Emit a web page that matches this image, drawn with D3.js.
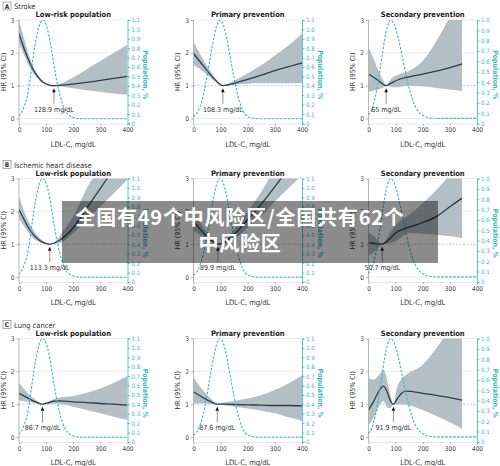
<!DOCTYPE html>
<meta charset="utf-8">
<style>
    body { margin: 0; background: #fff; }
    svg text { font-family: "Liberation Sans Narrow", "DejaVu Sans Condensed", "Liberation Sans", sans-serif; }
    .overlay text { font-family: "Noto Sans CJK SC", sans-serif; }
</style>
<body>
<div id="chart"></div>
<script src="https://cdn.jsdelivr.net/npm/d3@7/dist/d3.min.js"></script>
<script>
    var width = 500,
        height = 466

    // axes
    var ldlTicks = [0, 100, 200, 300, 400]
    var hrTicks = [0, 1, 2, 3]
    var popTicksWide = [0, 0.1, 0.2, 0.3, 0.4, 0.5, 0.6, 0.7, 0.8, 0.9, 1.0, 1.1]
    var popTicksNarrow = [0, 0.1, 0.2, 0.3, 0.4, 0.5, 0.6, 0.7, 0.8, 0.9, 1.0]

    var rowLetters = ["A", "B", "C"]
    var rowNames = ["Stroke", "Ischemic heart disease", "Lung cancer"]
    var colNames = ["Low-risk population", "Primary prevention", "Secondary prevention"]

    // [LDL-C, HR, lower CI, upper CI]
    var strokeLowRisk = [[0, 2.6, 2.3, 3.0], [20, 2.1, 1.9, 2.4], [40, 1.7, 1.55, 1.85], [60, 1.38, 1.3, 1.46],
        [80, 1.17, 1.12, 1.22], [100, 1.05, 1.03, 1.08], [115, 1.01, 1.0, 1.02], [128.9, 1, 1, 1],
        [150, 1.01, 0.98, 1.05], [200, 1.05, 0.92, 1.25], [250, 1.1, 0.86, 1.5], [300, 1.16, 0.81, 1.75],
        [350, 1.22, 0.76, 2.0], [400, 1.28, 0.72, 2.25]]
    var strokePrimary = [[0, 1.98, 1.62, 2.33], [25, 1.72, 1.5, 1.95], [50, 1.46, 1.33, 1.6], [75, 1.22, 1.15, 1.29],
        [95, 1.06, 1.03, 1.09], [108.3, 1, 1, 1], [125, 1.02, 1.0, 1.05], [150, 1.07, 1.03, 1.15],
        [200, 1.19, 1.06, 1.38], [250, 1.32, 1.07, 1.62], [300, 1.46, 1.07, 1.92], [350, 1.58, 1.07, 2.22],
        [400, 1.69, 1.08, 2.58]]
    var strokeSecondary = [[0, 1.35, 0.81, 2.18], [20, 1.25, 0.85, 1.8], [40, 1.13, 0.9, 1.4], [55, 1.04, 0.95, 1.15],
        [65, 1, 1, 1], [80, 1.06, 0.97, 1.18], [100, 1.15, 0.95, 1.3], [150, 1.27, 1.0, 1.45],
        [200, 1.35, 0.98, 1.75], [250, 1.44, 0.93, 2.35], [300, 1.55, 0.88, 3.1], [345, 1.66, 0.83, 3.8]]

    var ihdLowRisk = [[0, 2.06, 1.79, 2.45], [25, 1.65, 1.47, 1.88], [50, 1.32, 1.2, 1.47], [75, 1.12, 1.06, 1.2],
        [95, 1.03, 1.01, 1.06], [113.3, 1, 1, 1], [135, 1.05, 1.01, 1.1], [150, 1.12, 1.03, 1.25],
        [200, 1.5, 1.33, 1.85], [250, 2.1, 1.75, 2.7], [300, 2.7, 2.15, 3.4], [350, 3.3, 2.55, 4.0],
        [400, 3.9, 2.97, 4.6]]
    var ihdPrimary = [[0, 1.7, 1.42, 2.05], [25, 1.45, 1.28, 1.65], [50, 1.23, 1.14, 1.35], [70, 1.09, 1.04, 1.15],
        [89.9, 1, 1, 1], [110, 1.04, 1.0, 1.08], [150, 1.3, 1.15, 1.45], [200, 1.75, 1.5, 2.0],
        [250, 2.22, 1.85, 2.6], [300, 2.75, 2.3, 3.3], [350, 3.3, 2.7, 4.0], [400, 3.85, 3.1, 4.7]]
    var ihdSecondary = [[0, 1.04, 0.63, 1.38], [25, 1.02, 0.8, 1.2], [50.7, 1, 1, 1], [75, 1.14, 1.02, 1.28],
        [100, 1.34, 1.09, 1.59], [150, 1.52, 1.34, 1.89], [200, 1.66, 1.32, 2.25], [250, 1.84, 1.29, 2.65],
        [300, 2.14, 1.24, 3.1], [345, 2.4, 1.19, 3.5]]

    var lungLowRisk = [[0, 1.33, 1.12, 1.65], [25, 1.22, 1.08, 1.4], [50, 1.11, 1.04, 1.2], [70, 1.04, 1.01, 1.08],
        [86.7, 1, 1, 1], [110, 1.05, 1.0, 1.1], [130, 1.09, 1.02, 1.16], [150, 1.1, 1.01, 1.2],
        [200, 1.07, 0.92, 1.25], [250, 1.05, 0.82, 1.35], [300, 1.02, 0.72, 1.48], [350, 1.0, 0.62, 1.65],
        [400, 0.97, 0.52, 1.85]]
    var lungPrimary = [[0, 1.38, 1.02, 1.83], [25, 1.25, 1.02, 1.52], [50, 1.13, 1.01, 1.28], [70, 1.05, 1.0, 1.12],
        [87.6, 1, 1, 1], [110, 1.0, 0.97, 1.05], [150, 0.99, 0.93, 1.1], [200, 0.98, 0.87, 1.17],
        [250, 0.97, 0.8, 1.28], [300, 0.96, 0.72, 1.43], [350, 0.96, 0.6, 1.63], [400, 0.95, 0.49, 1.88]]
    var lungSecondary = [[0, 0.82, 0.36, 1.78], [20, 1.1, 0.62, 1.75], [40, 1.42, 0.95, 1.9], [55, 1.55, 1.1, 2.05],
        [70, 1.35, 0.9, 1.7], [80, 1.12, 0.88, 1.3], [91.9, 1, 1, 1], [105, 1.15, 0.98, 1.5],
        [120, 1.32, 1.0, 1.75], [140, 1.4, 0.98, 1.9], [200, 1.33, 0.82, 2.2], [250, 1.27, 0.64, 2.7],
        [300, 1.2, 0.45, 3.3], [345, 1.12, 0.25, 3.8]]

    // nadir (reference) LDL-C per row, per column
    var strokeNadirs = [128.9, 108.3, 65]
    var ihdNadirs = [113.3, 89.9, 50.7]
    var lungNadirs = [86.7, 87.6, 91.9]

    // population distribution, [LDL-C, %]
    var lowRiskPop = [[0, 0.08], [10, 0.12], [20, 0.19], [30, 0.28], [40, 0.45], [50, 0.66], [60, 0.85], [70, 0.99],
        [80, 1.08], [88, 1.1], [100, 1.05], [110, 0.94], [120, 0.78], [130, 0.6], [140, 0.44], [150, 0.31],
        [160, 0.21], [170, 0.14], [180, 0.1], [200, 0.065], [220, 0.052], [250, 0.05], [400, 0.05]]
    var primaryPop = [[0, 0.07], [10, 0.1], [20, 0.15], [30, 0.23], [40, 0.35], [50, 0.5], [60, 0.67], [70, 0.84],
        [80, 0.98], [90, 1.07], [98, 1.1], [110, 1.05], [120, 0.94], [130, 0.79], [140, 0.63], [150, 0.48],
        [160, 0.34], [170, 0.23], [180, 0.15], [190, 0.1], [200, 0.075], [220, 0.056], [250, 0.05], [400, 0.05]]
    var secondaryPop = [[0, 0.08], [10, 0.12], [20, 0.2], [30, 0.32], [40, 0.48], [50, 0.65], [60, 0.82], [70, 0.94],
        [82, 1.0], [90, 0.98], [100, 0.92], [110, 0.82], [120, 0.7], [130, 0.57], [140, 0.45], [150, 0.34],
        [160, 0.25], [170, 0.18], [180, 0.13], [200, 0.08], [220, 0.058], [250, 0.05], [400, 0.05]]

    var curves = [[strokeLowRisk, strokePrimary, strokeSecondary],
        [ihdLowRisk, ihdPrimary, ihdSecondary],
        [lungLowRisk, lungPrimary, lungSecondary]]
    var nadirs = [strokeNadirs, ihdNadirs, lungNadirs]
    var pops = [lowRiskPop, primaryPop, secondaryPop]

    // layout
    var colLeft = [19, 193.5, 368.5],
        rowTop = [20, 178.5, 338.5],
        plotW = 108.5,
        hrH = 98.5,
        plotH = 103.5

    var teal = "#3cb5c9",
        dark = "#2c3e4a",
        band = "#b4bfc5"

    var svg = d3.select("#chart").append("svg")
        .attr("width", width)
        .attr("height", height)

    var x = d3.scaleLinear().domain([0, 400]).range([0, plotW])
    var hr = d3.scaleLinear().domain([0, 3]).range([hrH, 0])

    // row headers
    rowLetters.forEach(function (letter, r) {
        var g = svg.append("g").attr("transform", "translate(3," + (rowTop[r] - 18) + ")")
        g.append("rect").attr("width", 8).attr("height", 8)
            .attr("fill", "none").attr("stroke", "#777").attr("stroke-width", 0.6)
        g.append("text").attr("x", 4).attr("y", 6.5).attr("text-anchor", "middle")
            .style("font-size", "6.5px").style("font-weight", "bold").attr("fill", "#333").text(letter)
        g.append("text").attr("x", 11).attr("y", 7).style("font-size", "7.5px").attr("fill", "#333").text(rowNames[r])
    })

    var clipId = 0
    curves.forEach(function (rowCurves, r) {
        rowCurves.forEach(function (data, c) {
            var g = svg.append("g").attr("transform", "translate(" + colLeft[c] + "," + rowTop[r] + ")")
            var popTicks = c == 2 ? popTicksNarrow : popTicksWide
            var pop = d3.scaleLinear().domain([0, popTicks[popTicks.length - 1]]).range([plotH, 0])

            var id = "clip" + (clipId++)
            g.append("clipPath").attr("id", id).append("rect")
                .attr("width", plotW).attr("height", plotH)

            // grid
            g.selectAll(".grid").data([0, 2, 3]).enter().append("line")
                .attr("x1", 0).attr("x2", plotW)
                .attr("y1", hr).attr("y2", hr)
                .attr("stroke", "#e2e2e2").attr("stroke-width", 0.7)
            g.append("line").attr("x1", 0).attr("x2", plotW)
                .attr("y1", hr(1)).attr("y2", hr(1))
                .attr("stroke", "#aaa").attr("stroke-width", 0.7).attr("stroke-dasharray", "2,1.5")

            var plot = g.append("g").attr("clip-path", "url(#" + id + ")")

            plot.append("path").datum(data)
                .attr("fill", band)
                .attr("d", d3.area().curve(d3.curveMonotoneX)
                    .x(function (d) { return x(d[0]) })
                    .y0(function (d) { return hr(d[2]) })
                    .y1(function (d) { return hr(d[3]) }))

            plot.append("path").datum(data)
                .attr("fill", "none").attr("stroke", dark).attr("stroke-width", 1.3)
                .attr("d", d3.line().curve(d3.curveMonotoneX)
                    .x(function (d) { return x(d[0]) })
                    .y(function (d) { return hr(d[1]) }))

            plot.append("path").datum(pops[c])
                .attr("fill", "none").attr("stroke", teal).attr("stroke-width", 1.1)
                .attr("stroke-dasharray", "2.5,1.5")
                .attr("d", d3.line().curve(d3.curveMonotoneX)
                    .x(function (d) { return x(d[0]) })
                    .y(function (d) { return pop(d[1]) }))

            // nadir arrow
            var nx = x(nadirs[r][c])
            g.append("line").attr("x1", nx).attr("x2", nx)
                .attr("y1", hr(0.45)).attr("y2", hr(0.8))
                .attr("stroke", "#666").attr("stroke-width", 0.7)
            g.append("path")
                .attr("d", "M" + (nx - 1.8) + "," + hr(0.8) + "L" + (nx + 1.8) + "," + hr(0.8) + "L" + nx + "," + hr(0.92) + "Z")
                .attr("fill", "#111")
            g.append("text").attr("x", nx).attr("y", hr(0.2)).attr("text-anchor", "middle")
                .style("font-size", "7px").attr("fill", "#333").text(nadirs[r][c] + " mg/dL")

            // axes
            var left = g.append("g").call(d3.axisLeft(hr).tickValues(hrTicks).tickSize(2.5).tickPadding(2)
                .tickFormat(d3.format("d")))
            left.select(".domain").attr("d", "M0,0V" + plotH)
            var right = g.append("g").attr("transform", "translate(" + plotW + ",0)")
                .call(d3.axisRight(pop).tickValues(popTicks).tickSize(2.5).tickPadding(1.5)
                    .tickFormat(function (d) { return d === 0 ? "0" : d.toFixed(1) }))
            var bottom = g.append("g").attr("transform", "translate(0," + plotH + ")")
                .call(d3.axisBottom(x).tickValues(ldlTicks).tickSize(2.5).tickPadding(1.5)
                    .tickFormat(d3.format("d")))

            left.selectAll("line, path").attr("stroke", "#999").attr("stroke-width", 0.7)
            bottom.selectAll("line").attr("stroke", "#999").attr("stroke-width", 0.7)
            bottom.select(".domain").attr("stroke", "#ddd").attr("stroke-width", 0.7)
            right.selectAll("line, path").attr("stroke", teal).attr("stroke-width", 0.8)
            left.selectAll("text").attr("fill", "#444").style("font-size", "6.5px").attr("font-family", null)
            bottom.selectAll("text").attr("fill", "#444").style("font-size", "6.5px").attr("font-family", null)
            right.selectAll("text").attr("fill", teal).style("font-size", "6px").attr("font-family", null)

            // labels
            g.append("text").attr("x", plotW / 2).attr("y", -3).attr("text-anchor", "middle")
                .style("font-size", "7.5px").style("font-weight", "bold").attr("fill", "#222").text(colNames[c])
            g.append("text").attr("x", plotW / 2).attr("y", 126.5).attr("text-anchor", "middle")
                .style("font-size", "7.5px").attr("fill", "#333").text("LDL-C, mg/dL")
            g.append("text").attr("transform", "translate(-13.5," + (plotH / 2) + ") rotate(-90)")
                .attr("text-anchor", "middle").style("font-size", "7px").attr("fill", "#333").text("HR (95% CI)")
            g.append("text").attr("transform", "translate(" + (plotW + 18) + "," + (plotH / 2 + 3) + ") rotate(90)")
                .attr("dy", "0.35em").attr("text-anchor", "middle").style("font-size", "7px").style("font-weight", "bold")
                .attr("fill", teal).text("Population, %")
        })
    })

    // caption overlay
    var overlay = svg.append("g").attr("class", "overlay")
    overlay.append("rect").attr("x", 62).attr("y", 201).attr("width", 376).attr("height", 62)
        .attr("fill", "#000").attr("opacity", 0.45)
    overlay.selectAll(".cap").data(["全国有49个中风险区/全国共有62个", "中风险区"]).enter().append("text")
        .attr("x", 240).attr("y", function (d, i) { return 225 + i * 26 })
        .attr("text-anchor", "middle").attr("fill", "#fff")
        .style("font-size", "20px").style("font-weight", "bold").style("letter-spacing", "0.8px")
        .text(function (d) { return d })
</script>
</body>
